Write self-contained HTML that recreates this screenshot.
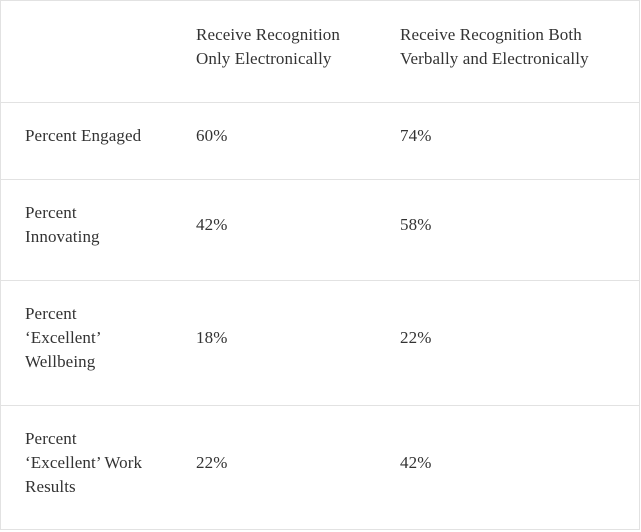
<!DOCTYPE html>
<html><head><style>
html,body{margin:0;padding:0;background:#fff;width:641px;height:532px;overflow:hidden}
.box{position:absolute;left:0;top:0;width:638px;height:528px;border:1px solid #e2e2e2}
.h{position:absolute;left:0;width:640px;height:0;border-top:1px solid #e2e2e2}
.t{position:absolute;font-family:"Liberation Serif",Georgia,serif;font-size:17px;letter-spacing:0.1px;line-height:24px;color:#333;white-space:nowrap}
</style></head><body>
<div class="box"></div>
<div class="h" style="top:102px"></div>
<div class="h" style="top:179px"></div>
<div class="h" style="top:280px"></div>
<div class="h" style="top:405px"></div>
<div class="t" style="left:196px;top:23px">Receive Recognition<br>Only Electronically</div>
<div class="t" style="left:400px;top:23px">Receive Recognition Both<br>Verbally and Electronically</div>
<div class="t" style="left:25px;top:124px">Percent Engaged</div>
<div class="t" style="left:196px;top:124px">60%</div>
<div class="t" style="left:400px;top:124px">74%</div>
<div class="t" style="left:25px;top:201px">Percent<br>Innovating</div>
<div class="t" style="left:196px;top:213px">42%</div>
<div class="t" style="left:400px;top:213px">58%</div>
<div class="t" style="left:25px;top:302px">Percent<br>‘Excellent’<br>Wellbeing</div>
<div class="t" style="left:196px;top:326px">18%</div>
<div class="t" style="left:400px;top:326px">22%</div>
<div class="t" style="left:25px;top:427px">Percent<br>‘Excellent’ Work<br>Results</div>
<div class="t" style="left:196px;top:451px">22%</div>
<div class="t" style="left:400px;top:451px">42%</div>
</body></html>
